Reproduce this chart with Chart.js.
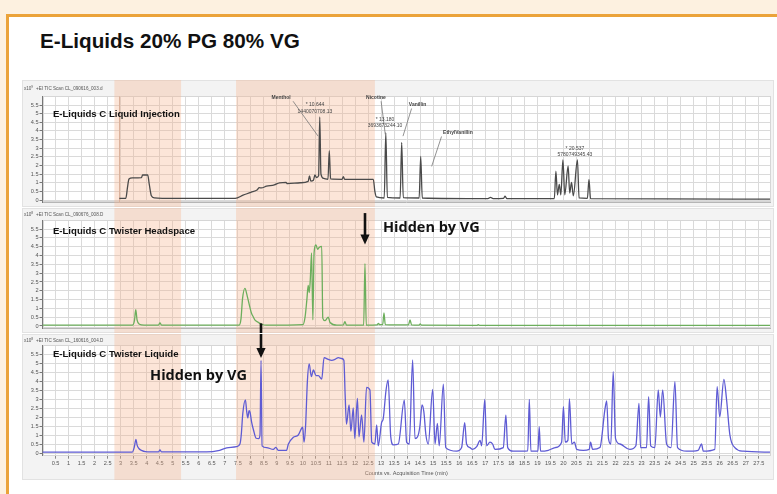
<!DOCTYPE html>
<html>
<head>
<meta charset="utf-8">
<script src="https://cdn.jsdelivr.net/npm/chart.js@4.4.1/dist/chart.umd.min.js"></script>
<style>
  html, body { margin: 0; padding: 0; }
  body { width: 777px; height: 494px; background: #fdf1e0; position: relative; overflow: hidden;
         font-family: "Liberation Sans", Arial, sans-serif; }
  #sheet { position: absolute; left: 6px; top: 14px; width: 800px; height: 500px; background: #fff;
           border-left: 3px solid #eba33a; border-top: 3px solid #eba33a; }
  #title { position: absolute; left: 40px; top: 29px; font-weight: bold; font-size: 20.7px; color: #111;
           white-space: nowrap; }
  .panel { position: absolute; left: 22px; width: 752px; }
  .panel canvas { display: block; }
</style>
</head>
<body>
<div id="sheet"></div>
<div id="title">E-Liquids 20% PG 80% VG</div>
<div class="panel" style="top:80px;height:127px"><canvas id="p1" width="752" height="127"></canvas></div>
<div class="panel" style="top:208px;height:125px"><canvas id="p2" width="752" height="125"></canvas></div>
<div class="panel" style="top:334px;height:146px"><canvas id="p3" width="752" height="146"></canvas></div>
<script>
// acquisition time ticks (min) and abundance ticks
const timeTicks = [0.5, 1, 1.5, 2, 2.5, 3, 3.5, 4, 4.5, 5, 5.5, 6, 6.5, 7, 7.5, 8, 8.5, 9, 9.5, 10,
  10.5, 11, 11.5, 12, 12.5, 13, 13.5, 14, 14.5, 15, 15.5, 16, 16.5, 17, 17.5, 18, 18.5, 19, 19.5, 20,
  20.5, 21, 21.5, 22, 22.5, 23, 23.5, 24, 24.5, 25, 25.5, 26, 26.5, 27, 27.5];
const countTicks = [0, 0.5, 1, 1.5, 2, 2.5, 3, 3.5, 4, 4.5, 5, 5.5];

// retention windows highlighted across the three runs (min)
const windowStart = [2.76, 7.43];
const windowEnd = [5.32, 12.76];

// [time (min), counts] — liquid injection, x10^9
const injectionTrace = [
  [2.95, 0.1], [3.2, 0.1], [3.26, 0.7], [3.32, 1.22], [3.45, 1.28], [3.8, 1.3], [3.84, 1.45], [4.04, 1.45],
  [4.1, 0.9], [4.18, 0.25], [4.3, 0.12], [4.6, 0.1], [7.4, 0.1], [7.7, 0.28], [8.0, 0.45], [8.25, 0.6],
  [8.32, 0.72], [8.4, 0.7], [8.6, 0.8], [8.9, 0.88], [9.1, 1.0], [9.35, 1.02], [9.4, 0.95], [9.9, 1.0],
  [10.2, 1.08], [10.25, 1.4], [10.3, 1.1], [10.4, 1.15], [10.46, 1.45], [10.52, 1.3], [10.6, 1.4],
  [10.644, 4.81], [10.69, 1.5], [10.8, 1.25], [10.96, 1.2], [11.01, 2.86], [11.06, 1.22], [11.5, 1.2],
  [11.55, 1.35], [11.6, 1.2], [12.7, 1.2], [12.76, 0.5], [12.82, 0.18], [13.12, 0.12], [13.18, 3.9],
  [13.24, 0.15], [13.73, 0.12], [13.79, 3.33], [13.85, 0.14], [14.46, 0.12], [14.52, 2.52], [14.58, 0.12],
  [17.1, 0.08], [17.2, 0.15], [17.3, 0.08], [17.7, 0.1], [17.76, 0.22], [17.83, 0.08], [19.65, 0.08],
  [19.71, 1.67], [19.77, 0.3], [19.84, 0.9], [19.9, 0.3], [19.98, 2.33], [20.05, 0.3], [20.18, 1.97],
  [20.24, 0.4], [20.31, 1.02], [20.38, 0.25], [20.537, 2.33], [20.6, 0.12], [20.92, 0.1], [20.98, 1.2],
  [21.04, 0.08], [27.93, 0.05]
];

// [time (min), counts] — Twister headspace, x10^8
const headspaceTrace = [
  [0, 0.05], [3.45, 0.05], [3.53, 0.3], [3.58, 0.93], [3.63, 0.35], [3.72, 0.1], [3.9, 0.05], [4.45, 0.05],
  [4.51, 0.17], [4.57, 0.05], [7.55, 0.05], [7.62, 0.4], [7.68, 1.55], [7.77, 2.13], [7.86, 1.7],
  [7.94, 1.2], [8.02, 0.74], [8.1, 0.5], [8.16, 0.33], [8.29, 0.2], [8.41, 0.1], [8.6, 0.05], [10.0, 0.08],
  [10.08, 0.5], [10.15, 1.5], [10.2, 2.3], [10.24, 1.9], [10.28, 2.6], [10.33, 4.15], [10.38, 0.35],
  [10.42, 3.9], [10.44, 4.35], [10.5, 4.6], [10.56, 4.35], [10.62, 4.45], [10.72, 4.52], [10.76, 0.45],
  [10.85, 0.3], [10.97, 0.5], [11.04, 0.2], [11.3, 0.05], [11.55, 0.06], [11.61, 0.25], [11.67, 0.05],
  [12.33, 0.05], [12.38, 3.54], [12.43, 0.05], [12.85, 0.06], [12.89, 0.15], [12.95, 0.08], [13.06, 0.08],
  [13.11, 0.75], [13.16, 0.08], [14.05, 0.06], [14.11, 0.34], [14.17, 0.06], [14.46, 0.05], [14.5, 0.12],
  [14.55, 0.05], [16.68, 0.04], [16.73, 0.08], [16.78, 0.04], [27.93, 0.03]
];

// [time (min), counts] — Twister liquid, x10^8
const liquidTrace = [
  [0, 0.05], [3.45, 0.05], [3.52, 0.3], [3.59, 0.76], [3.63, 0.45], [3.7, 0.25], [3.8, 0.15], [3.95, 0.08],
  [4.45, 0.06], [4.51, 0.17], [4.57, 0.06], [6.3, 0.06], [6.8, 0.15], [7.07, 0.28], [7.45, 0.35],
  [7.58, 0.5], [7.63, 1.0], [7.69, 2.2], [7.79, 2.95], [7.84, 2.3], [7.88, 1.95], [7.93, 2.35], [7.97, 2.25],
  [8.03, 1.7], [8.1, 1.28], [8.2, 0.82], [8.3, 0.8], [8.35, 1.0], [8.39, 5.15], [8.43, 0.4], [8.6, 0.3],
  [8.86, 0.2], [8.96, 0.31], [9.05, 0.15], [9.37, 0.15], [9.44, 0.5], [9.63, 0.87], [9.82, 1.0],
  [9.99, 1.43], [10.04, 0.6], [10.1, 1.5], [10.17, 4.0], [10.24, 4.95], [10.32, 4.24], [10.4, 4.61],
  [10.5, 4.3], [10.59, 4.3], [10.72, 4.1], [10.81, 5.3], [10.97, 5.2], [11.1, 5.15], [11.23, 5.2],
  [11.36, 5.3], [11.48, 5.25], [11.57, 5.15], [11.62, 3.2], [11.67, 1.6], [11.77, 2.67], [11.84, 1.2],
  [11.93, 2.5], [11.99, 0.8], [12.09, 3.04], [12.15, 0.9], [12.25, 2.11], [12.34, 0.6], [12.44, 3.65],
  [12.57, 3.5], [12.64, 0.6], [12.76, 0.5], [12.83, 1.56], [12.89, 0.4], [13.02, 1.7], [13.08, 1.9],
  [13.19, 3.5], [13.27, 4.06], [13.37, 0.9], [13.47, 0.45], [13.66, 0.5], [13.89, 2.94], [13.98, 0.6],
  [14.08, 0.5], [14.21, 5.17], [14.3, 0.8], [14.4, 0.9], [14.49, 1.5], [14.57, 2.67], [14.64, 2.3],
  [14.72, 1.0], [14.81, 0.5], [14.98, 3.54], [15.07, 0.5], [15.16, 1.65], [15.23, 0.4], [15.39, 3.83],
  [15.48, 0.3], [15.9, 0.1], [16.09, 0.3], [16.21, 1.69], [16.28, 0.5], [16.41, 0.3], [16.51, 0.2],
  [16.67, 0.35], [16.8, 0.7], [16.86, 0.4], [16.98, 2.98], [17.05, 0.4], [17.18, 0.6], [17.28, 0.5],
  [17.37, 0.2], [17.69, 0.3], [17.79, 2.1], [17.86, 0.3], [18.07, 0.1], [18.63, 0.12], [18.69, 2.98],
  [18.75, 0.1], [19.02, 0.1], [19.07, 1.46], [19.12, 0.1], [19.42, 0.15], [19.68, 0.3], [19.93, 0.6],
  [20.0, 2.57], [20.07, 0.6], [20.17, 0.7], [20.23, 3.0], [20.32, 0.5], [20.42, 0.6], [20.51, 0.2],
  [20.76, 0.15], [20.99, 0.2], [21.04, 0.6], [21.12, 0.2], [21.4, 0.3], [21.59, 2.4], [21.66, 2.9],
  [21.73, 0.8], [21.82, 0.5], [21.91, 4.52], [22.0, 0.8], [22.17, 0.5], [22.55, 0.2], [22.78, 0.4],
  [22.9, 2.76], [22.96, 0.3], [23.19, 0.3], [23.27, 3.13], [23.35, 0.4], [23.51, 0.3], [23.64, 3.5],
  [23.72, 2.0], [23.81, 3.5], [23.96, 0.5], [24.13, 0.3], [24.28, 3.96], [24.38, 0.3], [24.73, 0.1],
  [25.17, 0.15], [25.3, 0.5], [25.37, 0.1], [25.81, 0.2], [25.9, 3.69], [26.0, 2.0], [26.16, 4.09],
  [26.26, 3.0], [26.39, 1.0], [26.58, 0.3], [26.9, 0.1], [27.93, 0.05]
];

const runTitles = ['E-Liquids C Liquid Injection', 'E-Liquids C Twister Headspace', 'E-Liquids C Twister Liquide'];
const scanNames = ['+EI TIC Scan CL_090616_003.d', '+EI TIC Scan CL_090676_008.D', '+EI TIC Scan CL_160616_004.D'];
const countExponents = ['9', '8', '8'];
const traceColors = ['#4a4a4a', '#6cae5c', '#5e5bd4'];

// compound callouts on the liquid injection run
const compoundNames = ['Menthol', 'Nicotine', 'Vanillin', 'EthylVanillin'];
const retentionLabels = ['* 10.644', '* 13.180', '* 20.537'];
const areaLabels = ['1440070708.13', '3693673244.10', '5780749345.43'];
const hiddenNote = 'Hidden by VG';

const FONT = '"Liberation Sans", Arial, sans-serif';

function text(ctx, s, x, y, font, color, align) {
  ctx.font = font;
  ctx.fillStyle = color;
  ctx.textAlign = align || 'left';
  ctx.textBaseline = 'alphabetic';
  ctx.fillText(s, x, y);
}
function line(ctx, x1, y1, x2, y2, color, w) {
  ctx.beginPath();
  ctx.moveTo(x1, y1); ctx.lineTo(x2, y2);
  ctx.strokeStyle = color; ctx.lineWidth = w; ctx.stroke();
}
function downArrow(ctx, x, yTail, yTip, drawHead) {
  line(ctx, x, yTail, x, drawHead ? yTip - 8 : yTip, '#111', 2.6);
  if (drawHead) {
    ctx.beginPath();
    ctx.moveTo(x - 4.6, yTip - 10); ctx.lineTo(x + 4.6, yTip - 10); ctx.lineTo(x, yTip);
    ctx.closePath(); ctx.fillStyle = '#111'; ctx.fill();
  }
}

function panelPlugin(idx) {
  return {
    id: 'panel' + idx,
    beforeDraw(chart) {
      const { ctx, chartArea: a, width, height } = chart;
      ctx.save();
      ctx.fillStyle = '#f3f3f3';
      ctx.fillRect(0, 0, width, height);
      ctx.strokeStyle = '#e2e2e2';
      ctx.lineWidth = 1;
      ctx.strokeRect(0.5, 0.5, width - 1, height - 1);
      ctx.fillStyle = '#ffffff';
      ctx.fillRect(a.left, a.top, a.right - a.left, a.bottom - a.top);
      ctx.restore();
    },
    beforeDatasetsDraw(chart) {
      const { ctx, chartArea: a, scales: { x }, height } = chart;
      ctx.save();
      ctx.strokeStyle = '#d6d6d6';
      ctx.lineWidth = 1;
      ctx.strokeRect(Math.round(a.left) + 0.5, Math.round(a.top) + 0.5, Math.round(a.right - a.left) - 1, Math.round(a.bottom - a.top) - 1);
      if (idx === 0) {
        const xm = Math.round(x.getPixelForValue(2.95)) + 0.5;
        line(ctx, xm, a.top, xm, a.bottom, '#cdb2a4', 1);
      }
      ctx.fillStyle = 'rgba(245,178,140,0.34)';
      windowStart.forEach((s, i) => {
        const x1 = x.getPixelForValue(s), x2 = x.getPixelForValue(windowEnd[i]);
        ctx.fillRect(x1, 0, x2 - x1, height);
      });
      ctx.restore();
    },
    afterDraw(chart) {
      const { ctx, scales: { x, y }, height } = chart;
      const px = t => x.getPixelForValue(t);
      const py = v => y.getPixelForValue(v);
      ctx.save();
      // run header
      const hy = idx === 0 ? 10 : 8;
      text(ctx, 'x10', 2, hy, '4.6px ' + FONT, '#555');
      text(ctx, countExponents[idx], 9.2, hy - 2, '3.4px ' + FONT, '#555');
      text(ctx, scanNames[idx], 14, hy, '4.6px ' + FONT, '#555');
      // run title
      const titleV = [4.81, 5.22, 5.32][idx];
      text(ctx, runTitles[idx], px(0.4), py(titleV), 'bold 9.6px ' + FONT, '#111');

      if (idx === 0) {
        const f = '5px ' + FONT, c = '#444';
        text(ctx, compoundNames[0], px(9.16), py(5.85), 'bold ' + f, c, 'center');
        line(ctx, px(9.62), py(5.72), px(10.58), py(3.7), '#777', 0.8);
        text(ctx, retentionLabels[0], px(10.46), py(5.42), f, c, 'center');
        text(ctx, areaLabels[0], px(10.46), py(5.06), f, c, 'center');
        text(ctx, compoundNames[1], px(12.8), py(5.85), 'bold ' + f, c, 'center');
        line(ctx, px(13.0), py(5.72), px(13.16), py(3.8), '#777', 0.8);
        text(ctx, retentionLabels[1], px(13.15), py(4.58), f, c, 'center');
        text(ctx, areaLabels[1], px(13.15), py(4.2), f, c, 'center');
        text(ctx, compoundNames[2], px(14.4), py(5.45), 'bold ' + f, c, 'center');
        line(ctx, px(14.17), py(5.3), px(13.84), py(3.7), '#777', 0.8);
        text(ctx, compoundNames[3], px(15.95), py(3.82), 'bold ' + f, c, 'center');
        line(ctx, px(15.32), py(3.68), px(14.94), py(1.95), '#777', 0.8);
        text(ctx, retentionLabels[2], px(20.44), py(2.92), f, c, 'center');
        text(ctx, areaLabels[2], px(20.44), py(2.56), f, c, 'center');
      }
      if (idx === 1) {
        downArrow(ctx, Math.round(px(12.38)), py(6.41), py(4.62), true);
        text(ctx, hiddenNote, px(13.07), py(5.36), 'bold 14.5px "Open Sans", ' + FONT, '#111');
        // tail of the arrow that points into the Twister liquid run
        downArrow(ctx, Math.round(px(8.38)), py(0.15), height, false);
      }
      if (idx === 2) {
        downArrow(ctx, Math.round(px(8.38)), 0, py(5.28), true);
        text(ctx, hiddenNote, px(4.13), py(4.06), 'bold 14.5px "Open Sans", ' + FONT, '#111');
      }
      ctx.restore();
    }
  };
}

function buildPanel(canvasId, idx, trace, layoutPad, showTime) {
  return new Chart(document.getElementById(canvasId), {
    type: 'line',
    data: {
      datasets: [{
        data: trace,
        borderColor: traceColors[idx],
        borderWidth: 1.3,
        pointRadius: 0,
        fill: false,
        cubicInterpolationMode: 'monotone'
      }]
    },
    options: {
      responsive: false,
      animation: false,
      devicePixelRatio: 1,
      layout: { padding: layoutPad },
      plugins: { legend: { display: false }, tooltip: { enabled: false }, title: { display: false } },
      scales: {
        x: {
          type: 'linear',
          min: 0,
          max: 27.93,
          afterBuildTicks: s => { s.ticks = timeTicks.map(v => ({ value: v })); },
          afterFit: s => { s.height = showTime ? 22 : 0; },
          ticks: {
            display: showTime, autoSkip: false, maxRotation: 0, padding: 1,
            color: '#555', font: { size: 5.6, family: FONT },
            callback: v => String(v)
          },
          grid: { color: '#dadada', lineWidth: 1, drawTicks: showTime, tickLength: 3, tickColor: '#888' },
          border: { display: true, color: '#b5b5b5' },
          title: {
            display: showTime, text: 'Counts vs. Acquisition Time (min)',
            color: '#555', font: { size: 5.6, family: FONT }, padding: { top: 0, bottom: 1 }
          }
        },
        y: {
          min: -0.15,
          max: 6,
          afterBuildTicks: s => { s.ticks = countTicks.map(v => ({ value: v })); },
          afterFit: s => { s.width = 20.5; },
          ticks: { padding: 1, color: '#555', font: { size: 5.6, family: FONT }, callback: v => String(v) },
          grid: { color: '#dadada', lineWidth: 1, tickLength: 3, tickColor: '#777' },
          border: { display: true, color: '#777' }
        }
      }
    },
    plugins: [panelPlugin(idx)]
  });
}

buildPanel('p1', 0, injectionTrace, { left: 0, right: 4, top: 16.4, bottom: 2.4 }, false);
buildPanel('p2', 1, headspaceTrace, { left: 0, right: 4, top: 12.3, bottom: 2.6 }, false);
buildPanel('p3', 2, liquidTrace, { left: 0, right: 4, top: 11, bottom: 2.3 }, true);
</script>
</body>
</html>
